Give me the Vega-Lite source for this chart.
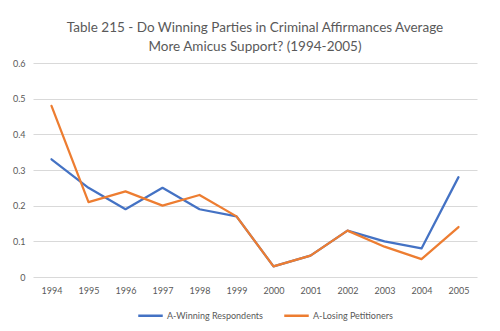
{
  "$schema": "https://vega.github.io/schema/vega-lite/v6.json",
  "width": 444,
  "height": 214,
  "autosize": "none",
  "padding": {"left": 33, "top": 63, "right": 23, "bottom": 54},
  "background": "white",
  "title": {
    "text": ["Table 215 - Do Winning Parties in Criminal Affirmances Average", "More Amicus Support? (1994-2005)"],
    "font": "Lato",
    "fontSize": 13.5,
    "fontWeight": "normal",
    "color": "#595959",
    "anchor": "middle",
    "offset": 6,
    "lineHeight": 19
  },
  "data": {
    "values": [
      {"year": "1994", "series": "A-Winning Respondents", "value": 0.33},
      {"year": "1995", "series": "A-Winning Respondents", "value": 0.25},
      {"year": "1996", "series": "A-Winning Respondents", "value": 0.19},
      {"year": "1997", "series": "A-Winning Respondents", "value": 0.25},
      {"year": "1998", "series": "A-Winning Respondents", "value": 0.19},
      {"year": "1999", "series": "A-Winning Respondents", "value": 0.17},
      {"year": "2000", "series": "A-Winning Respondents", "value": 0.03},
      {"year": "2001", "series": "A-Winning Respondents", "value": 0.06},
      {"year": "2002", "series": "A-Winning Respondents", "value": 0.13},
      {"year": "2003", "series": "A-Winning Respondents", "value": 0.10},
      {"year": "2004", "series": "A-Winning Respondents", "value": 0.08},
      {"year": "2005", "series": "A-Winning Respondents", "value": 0.28},
      {"year": "1994", "series": "A-Losing Petitioners", "value": 0.48},
      {"year": "1995", "series": "A-Losing Petitioners", "value": 0.21},
      {"year": "1996", "series": "A-Losing Petitioners", "value": 0.24},
      {"year": "1997", "series": "A-Losing Petitioners", "value": 0.20},
      {"year": "1998", "series": "A-Losing Petitioners", "value": 0.23},
      {"year": "1999", "series": "A-Losing Petitioners", "value": 0.17},
      {"year": "2000", "series": "A-Losing Petitioners", "value": 0.03},
      {"year": "2001", "series": "A-Losing Petitioners", "value": 0.06},
      {"year": "2002", "series": "A-Losing Petitioners", "value": 0.13},
      {"year": "2003", "series": "A-Losing Petitioners", "value": 0.085},
      {"year": "2004", "series": "A-Losing Petitioners", "value": 0.05},
      {"year": "2005", "series": "A-Losing Petitioners", "value": 0.14}
    ]
  },
  "mark": {"type": "line", "strokeWidth": 2.25, "strokeCap": "round", "strokeJoin": "round"},
  "encoding": {
    "x": {
      "field": "year",
      "type": "ordinal",
      "title": null,
      "scale": {"type": "point", "padding": 0.5},
      "axis": {
        "labelAngle": 0,
        "ticks": false,
        "domain": false,
        "grid": false,
        "labelFont": "Lato",
        "labelFontSize": 9,
        "labelColor": "#595959",
        "labelPadding": 9
      }
    },
    "y": {
      "field": "value",
      "type": "quantitative",
      "title": null,
      "scale": {"domain": [0, 0.6], "nice": false},
      "axis": {
        "values": [0, 0.1, 0.2, 0.3, 0.4, 0.5, 0.6],
        "format": ".1~f",
        "ticks": false,
        "domain": false,
        "gridColor": "#d9d9d9",
        "gridWidth": 1,
        "labelFont": "Lato",
        "labelFontSize": 9,
        "labelColor": "#595959",
        "labelPadding": 8
      }
    },
    "color": {
      "field": "series",
      "type": "nominal",
      "title": null,
      "scale": {
        "domain": ["A-Winning Respondents", "A-Losing Petitioners"],
        "range": ["#4472C4", "#ED7D31"]
      },
      "legend": {
        "orient": "none",
        "legendX": 104,
        "legendY": 239,
        "direction": "horizontal",
        "symbolType": "stroke",
        "symbolSize": 600,
        "symbolStrokeWidth": 2.5,
        "labelFont": "Lato",
        "labelFontSize": 9,
        "labelColor": "#595959",
        "labelOffset": 3,
        "columnPadding": 16
      }
    }
  },
  "config": {"view": {"stroke": null}}
}
